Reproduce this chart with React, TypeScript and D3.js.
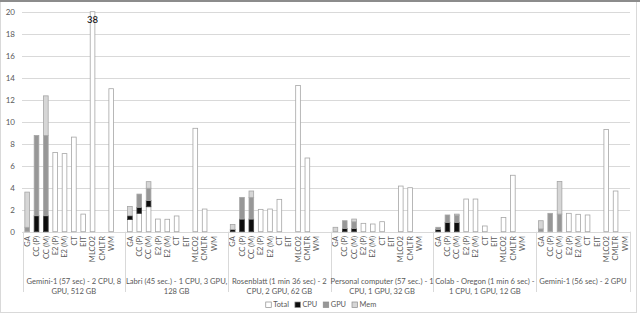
import { useEffect, useRef } from "react";
import * as d3 from "d3";

// tools measured on every machine
const tools = ["GA", "CC (P)", "CC (M)", "E2 (P)", "E2 (M)", "CT", "EIT", "MLCO2", "CMLTR", "WM"];

// machine labels (two lines, as wrapped in the chart)
const machines = [
  ["Gemini-1 (57 sec) - 2 CPU, 8", "GPU, 512 GB"],
  ["Labri (45 sec.) - 1 CPU, 3 GPU,", "128 GB"],
  ["Rosenblatt (1 min 36 sec) - 2", "CPU, 2 GPU, 62 GB"],
  ["Personal computer (57 sec.) - 1", "CPU, 1 GPU, 32 GB"],
  ["Colab - Oregon (1 min 6 sec) -", "1 CPU, 1 GPU, 12 GB"],
  ["Gemini-1 (56 sec) - 2 GPU"],
];

const seriesKeys = ["Total", "CPU", "GPU", "Mem"];

// one row per machine, one value per tool
const totalVals = [
  [0, 0, 0, 7.2, 7.1, 8.6, 1.6, 38, 0, 13.0],
  [1.1, 1.67, 2.27, 1.15, 1.13, 1.43, 0, 9.4, 2.06, 0],
  [0, 0, 0, 2.03, 2.06, 2.94, 0, 13.3, 6.7, 0],
  [0, 0, 0, 0.76, 0.7, 0.91, 0, 4.15, 4.0, 0],
  [0, 0, 0, 2.97, 2.97, 0.52, 0, 1.3, 5.13, 0],
  [0, 0, 0, 1.67, 1.58, 1.52, 0, 9.3, 3.7, 0],
];
const cpuVals = [
  [0, 1.45, 1.45, 0, 0, 0, 0, 0, 0, 0],
  [0.35, 0.55, 0.56, 0, 0, 0, 0, 0, 0, 0],
  [0.2, 1.15, 1.15, 0, 0, 0, 0, 0, 0, 0],
  [0, 0.3, 0.3, 0, 0, 0, 0, 0, 0, 0],
  [0.2, 0.85, 0.85, 0, 0, 0, 0, 0, 0, 0],
  [0, 0, 0, 0, 0, 0, 0, 0, 0, 0],
];
const gpuVals = [
  [0.4, 7.3, 7.3, 0, 0, 0, 0, 0, 0, 0],
  [0, 1.2, 1.12, 0, 0, 0, 0, 0, 0, 0],
  [0, 1.97, 1.97, 0, 0, 0, 0, 0, 0, 0],
  [0, 0.7, 0.6, 0, 0, 0, 0, 0, 0, 0],
  [0.2, 0.67, 0.65, 0, 0, 0, 0, 0, 0, 0],
  [0.25, 1.67, 1.6, 0, 0, 0, 0, 0, 0, 0],
];
const memVals = [
  [3.2, 0, 3.6, 0, 0, 0, 0, 0, 0, 0],
  [0.85, 0, 0.6, 0, 0, 0, 0, 0, 0, 0],
  [0.45, 0, 0.58, 0, 0, 0, 0, 0, 0, 0],
  [0.4, 0, 0.25, 0, 0, 0, 0, 0, 0, 0],
  [0, 0, 0.1, 0, 0, 0, 0, 0, 0, 0],
  [0.75, 0, 2.97, 0, 0, 0, 0, 0, 0, 0],
];

const fills: Record<string, string> = { Total: "#ffffff", CPU: "#0d0d0d", GPU: "#979797", Mem: "#d6d6d6" };
const FONT = "Lato, 'Liberation Sans', sans-serif";

export default function App() {
  const svgRef = useRef<SVGSVGElement | null>(null);

  useEffect(() => {
    if (!svgRef.current) return;
    const svg = d3.select(svgRef.current);
    svg.selectAll("*").remove();

    const W = 640;
    const H = 313;

    // chart border
    svg.append("rect").attr("x", 0.5).attr("y", 0.5).attr("width", 636).attr("height", H - 1)
      .attr("fill", "#fff").attr("stroke", "#d9d9d9");
    svg.append("line").attr("x1", 0).attr("x2", W).attr("y1", 1).attr("y2", 1)
      .attr("stroke", "#8c8c8c").attr("stroke-width", 2);

    // slots: 10 tools per machine, with a blank slot between machines
    const slots: { id: string; g: number; t: number }[] = [];
    machines.forEach((_, gi) => {
      tools.forEach((_, ti) => slots.push({ id: `${gi}-${ti}`, g: gi, t: ti }));
      if (gi < machines.length - 1) slots.push({ id: `${gi}-gap`, g: gi, t: -1 });
    });

    const x = d3.scaleBand().domain(slots.map((s) => s.id)).range([22.5, 629.6])
      .paddingInner(0.5).paddingOuter(0.25);
    const y = d3.scaleLinear().domain([0, 20]).range([231.7, 11.7]).clamp(true);
    const half = (x.step() - x.bandwidth()) / 2;

    // gridlines + y labels
    const ticks = y.ticks(10);
    svg.append("g").selectAll("line").data(ticks).enter().append("line")
      .attr("x1", 22).attr("x2", 630)
      .attr("y1", (d) => Math.round(y(d)) + 0.5).attr("y2", (d) => Math.round(y(d)) + 0.5)
      .attr("stroke", "#d9d9d9");
    svg.append("g").selectAll("text").data(ticks).enter().append("text")
      .attr("x", 15).attr("y", (d) => y(d)).attr("dy", "0.35em")
      .attr("text-anchor", "end").attr("font-family", FONT).attr("font-size", 8)
      .attr("fill", "#595959").text((d) => d);

    // stacked bars
    const rows = slots.filter((s) => s.t >= 0).map((s) => ({
      id: s.id,
      Total: totalVals[s.g][s.t],
      CPU: cpuVals[s.g][s.t],
      GPU: gpuVals[s.g][s.t],
      Mem: memVals[s.g][s.t],
    }));
    const stacked = d3.stack<any>().keys(seriesKeys)(rows);

    stacked.forEach((layer) => {
      svg.append("g").selectAll("rect")
        .data(layer.filter((d) => d[1] - d[0] > 0))
        .enter().append("rect")
        .attr("x", (d) => x(d.data.id)!)
        .attr("width", x.bandwidth())
        .attr("y", (d) => y(d[1]))
        .attr("height", (d) => y(d[0]) - y(d[1]))
        .attr("fill", fills[layer.key])
        .attr("stroke", layer.key === "CPU" ? "#404040" : "#a6a6a6")
        .attr("stroke-width", 0.8);
    });

    // value label for bars beyond the axis
    svg.append("g").selectAll("text")
      .data(rows.filter((r) => r.Total + r.CPU + r.GPU + r.Mem > y.domain()[1]))
      .enter().append("text")
      .attr("x", (d) => x(d.id)! + x.bandwidth() / 2)
      .attr("y", y(20) + 11)
      .attr("text-anchor", "middle").attr("font-family", FONT).attr("font-size", 9.5)
      .attr("fill", "#000")
      .text((d) => d.Total + d.CPU + d.GPU + d.Mem);

    // tool labels (rotated)
    svg.append("g").selectAll("text").data(slots.filter((s) => s.t >= 0)).enter().append("text")
      .attr("transform", (d) => `translate(${x(d.id)! + x.bandwidth() / 2},236) rotate(-90)`)
      .attr("dy", "0.35em").attr("text-anchor", "end")
      .attr("font-family", FONT).attr("font-size", 7.6).attr("fill", "#595959")
      .text((d) => tools[d.t]);

    // machine dividers + labels
    const starts = machines.map((_, gi) => x(`${gi}-0`)! - half);
    const bounds = [...starts, x.range()[1]];
    svg.append("g").selectAll("line").data(bounds).enter().append("line")
      .attr("x1", (d) => Math.round(d) + 0.5).attr("x2", (d) => Math.round(d) + 0.5)
      .attr("y1", 231.7).attr("y2", 292)
      .attr("stroke", "#d9d9d9");

    machines.forEach((lines, gi) => {
      const cx = (bounds[gi] + bounds[gi + 1]) / 2;
      svg.append("text").attr("x", cx).attr("y", 281)
        .attr("text-anchor", "middle").attr("font-family", FONT).attr("font-size", 7.6)
        .attr("fill", "#595959")
        .selectAll("tspan").data(lines).enter().append("tspan")
        .attr("x", cx).attr("dy", (_, i) => (i === 0 ? "0.35em" : "1.4em"))
        .text((d) => d);
    });

    // legend
    const leg = svg.append("g");
    let lx = 0;
    seriesKeys.forEach((k) => {
      leg.append("rect").attr("x", lx).attr("y", -3).attr("width", 5.5).attr("height", 5.5)
        .attr("fill", fills[k]).attr("stroke", "#8c8c8c").attr("stroke-width", 0.7);
      const t = leg.append("text").attr("x", lx + 7.5).attr("y", 0).attr("dy", "0.3em")
        .attr("font-family", FONT).attr("font-size", 7.4).attr("fill", "#595959").text(k);
      lx += 7.5 + (t.node() as SVGTextElement).getComputedTextLength() + 6;
    });
    leg.attr("transform", `translate(${321 - (lx - 6) / 2},305)`);
  }, []);

  return (
    <svg ref={svgRef} width={640} height={313}
      style={{ position: "absolute", left: 0, top: 0, background: "#fff" }} />
  );
}
